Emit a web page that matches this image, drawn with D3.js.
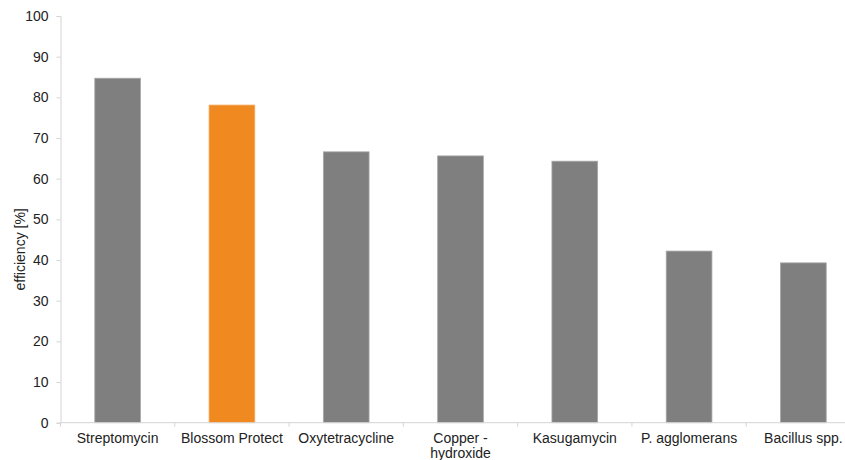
<!DOCTYPE html>
<html>
<head>
<meta charset="utf-8">
<script src="https://cdn.jsdelivr.net/npm/d3@7"></script>
<style>
  body { margin: 0; background: #fff; }
  text { font-family: "Liberation Sans", Arial, sans-serif; fill: #222; }
</style>
</head>
<body>
<div id="chart"></div>
<script>
// chart data
const categories = ["Streptomycin", "Blossom Protect", "Oxytetracycline", "Copper -\nhydroxide", "Kasugamycin", "P. agglomerans", "Bacillus spp."];
const efficiency = [84.7, 78.1, 66.6, 65.6, 64.3, 42.2, 39.3];
const highlight = "Blossom Protect";
const yTicks = [0, 10, 20, 30, 40, 50, 60, 70, 80, 90, 100];

const W = 845, H = 460;
// plot area runs off the right edge like the original
const margin = { top: 16, left: 60.5 };
const plotRight = 860.5, plotBottom = 422.7;

const svg = d3.select("#chart").append("svg")
    .attr("width", W)
    .attr("height", H);

const x = d3.scaleBand()
    .domain(categories)
    .range([margin.left, plotRight])
    .paddingInner(0.6)
    .paddingOuter(0.3);

const y = d3.scaleLinear()
    .domain([0, 100])
    .range([plotBottom, margin.top]);

const axisColor = "#d4d4d4";

// y axis
const yAxis = svg.append("g")
    .attr("transform", `translate(${margin.left},0)`)
    .call(d3.axisLeft(y).tickValues(yTicks).tickSize(4).tickPadding(8));
yAxis.select(".domain").attr("stroke", axisColor);
yAxis.selectAll(".tick line").attr("stroke", axisColor);
yAxis.selectAll(".tick text")
    .style("font-size", "14px")
    .attr("fill", "#222");

// y title
svg.append("text")
    .attr("transform", `translate(25,${(plotBottom + margin.top) / 2 + 30}) rotate(-90)`)
    .attr("text-anchor", "middle")
    .style("font-size", "14px")
    .text("efficiency [%]");

// bars
svg.selectAll(".bar")
    .data(categories)
    .enter()
    .append("rect")
    .attr("class", "bar")
    .attr("x", d => x(d))
    .attr("width", x.bandwidth())
    .attr("y", (d, i) => y(efficiency[i]))
    .attr("height", (d, i) => plotBottom - y(efficiency[i]))
    .attr("fill", d => d === highlight ? "#f0891f" : "#7f7f7f")
    .attr("stroke", d => d === highlight ? "#f5ab62" : "#a8a8a8")
    .attr("stroke-width", 0.8);

// x axis line and category separators
svg.append("line")
    .attr("x1", margin.left).attr("x2", plotRight)
    .attr("y1", plotBottom).attr("y2", plotBottom)
    .attr("stroke", axisColor);

const step = x.step();
const seps = d3.range(categories.length + 1).map(i => margin.left + i * step);
svg.selectAll(".sep")
    .data(seps)
    .enter()
    .append("line")
    .attr("x1", d => d).attr("x2", d => d)
    .attr("y1", plotBottom).attr("y2", plotBottom + 4)
    .attr("stroke", axisColor);

// category labels (may wrap onto two lines)
const labels = svg.selectAll(".xlabel")
    .data(categories)
    .enter()
    .append("text")
    .attr("class", "xlabel")
    .attr("text-anchor", "middle")
    .style("font-size", "14px");

labels.each(function (d) {
    const t = d3.select(this);
    const cx = x(d) + x.bandwidth() / 2;
    d.split("\n").forEach((line, k) => {
        t.append("tspan")
            .attr("x", cx)
            .attr("y", 443 + k * 15)
            .text(line);
    });
});
</script>
</body>
</html>
